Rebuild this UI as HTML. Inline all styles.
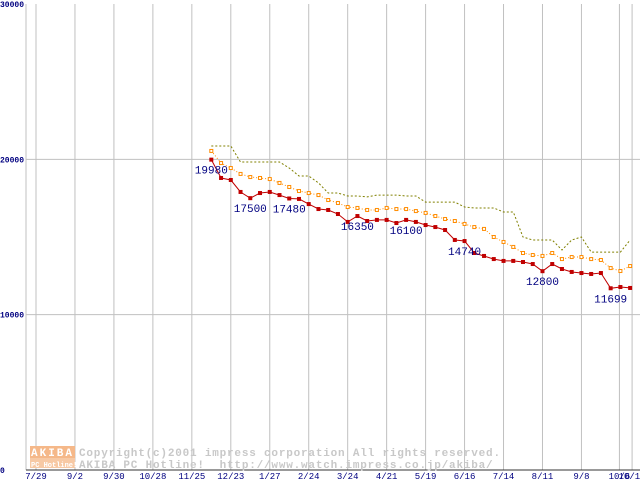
<!DOCTYPE html>
<html><head><meta charset="utf-8"><style>
body{margin:0;background:#fff;width:640px;height:480px;overflow:hidden}
svg{display:block}
text{font-family:"Liberation Mono","DejaVu Sans Mono",monospace}
</style></head><body>
<svg id="chart" width="640" height="480">
<g id="grid"></g>
<g id="wm">
<rect x="30" y="446" width="45" height="12" fill="#f5b889"/>
<rect x="30" y="458" width="45" height="10" fill="#f7c9a4"/>
<text x="31" y="456" font-size="11" fill="#fff" font-weight="bold" letter-spacing="2">AKIBA</text>
<text x="31" y="467" font-size="7" fill="#fff" font-weight="bold">PC Hotline!</text>
<text x="79" y="456" font-size="11" fill="#c8c8c8" font-weight="bold" letter-spacing="0.8">Copyright(c)2001 impress corporation All rights reserved.</text>
<text x="79" y="468" font-size="11" fill="#c8c8c8" font-weight="bold" letter-spacing="0.8" xml:space="preserve">AKIBA PC Hotline!  http://www.watch.impress.co.jp/akiba/</text>
</g>
<g id="series"></g>
</svg>
<script>
const xLabels=["7/29","9/2","9/30","10/28","11/25","12/23","1/27","2/24","3/24","4/21","5/19","6/16","7/14","8/11","9/8","10/6","10/13"];
const xw=[0,4,8,12,16,20,24,28,32,36,40,44,48,52,56,59.9,61.2];
const yTicks=[0,10000,20000,30000];
const startWeek=18;
const minPrice=[19980,18800,18670,17900,17500,17830,17900,17700,17480,17450,17120,16800,16740,16480,15970,16350,16030,16100,16100,15900,16100,15970,15770,15640,15450,14810,14740,13970,13780,13580,13460,13460,13390,13260,12800,13260,12940,12750,12680,12620,12680,11699,11780,11720];
const avgPrice=[20540,19760,19440,19060,18860,18800,18730,18480,18220,17960,17830,17700,17380,17190,16930,16870,16740,16740,16870,16800,16800,16670,16550,16350,16160,16030,15840,15640,15520,15000,14680,14360,13970,13840,13780,13970,13580,13710,13710,13580,13520,13000,12810,13130];
const maxPrice=[20860,20860,20860,19830,19830,19830,19830,19830,19440,18930,18930,18480,17830,17830,17640,17640,17580,17700,17700,17700,17640,17640,17250,17250,17250,17250,16930,16870,16870,16870,16610,16610,15000,14810,14810,14810,14160,14810,15000,14030,14030,14030,14030,14810];
const labelIdx=[0,4,8,15,20,26,34,41];
const NS="http://www.w3.org/2000/svg";
const X=w=>36+w*9.74;
const Y=v=>470-v/30000*466;
function mk(tag,attrs,parent){const e=document.createElementNS(NS,tag);for(const k in attrs)e.setAttribute(k,attrs[k]);parent.appendChild(e);return e;}
const grid=document.getElementById('grid'),ser=document.getElementById('series');
mk('line',{x1:26,y1:4,x2:26,y2:470,stroke:'#c0c0c0'},grid);
xLabels.forEach((l,i)=>{
 const x=X(xw[i]);
 const ln=mk('line',{x1:x,y1:4,x2:x,y2:470,stroke:'#c0c0c0'},grid);
 
 
 const t=mk('text',{x:x,y:479,'font-size':9,fill:'#000080','text-anchor':'middle'},grid);
 t.textContent=l;
 
 
});
yTicks.forEach(v=>{
 const y=Y(v);
 if(v>0&&v<30000){const ln=mk('line',{x1:26,y1:y,x2:640,y2:y,stroke:'#c0c0c0'},grid);
 
 }
 const t=mk('text',{x:0,y:Math.min(Math.max(y+3,7),474),'font-size':8,fill:'#000080','font-weight':'bold'},grid);
 t.textContent=String(v);
 
 
});
mk('line',{x1:26,y1:470,x2:640,y2:470,stroke:'#333'},grid);
function pts(arr){return arr.map((v,i)=>X(startWeek+i).toFixed(1)+','+Y(v).toFixed(1)).join(' ');}
const ol=mk('polyline',{points:pts(maxPrice),fill:'none',stroke:'#808000','stroke-dasharray':'2,2'},ser);


const or=mk('polyline',{points:pts(avgPrice),fill:'none',stroke:'#ff8c00','stroke-dasharray':'1,2'},ser);


avgPrice.forEach((v,i)=>{const r=mk('rect',{x:X(startWeek+i)-1.5,y:Y(v)-1.5,width:3,height:3,fill:'#fff',stroke:'#ff8c00'},ser);
 
 });
const rl=mk('polyline',{points:pts(minPrice),fill:'none',stroke:'#c00000'},ser);


minPrice.forEach((v,i)=>{const r=mk('rect',{x:X(startWeek+i)-2,y:Y(v)-2,width:4,height:4,fill:'#c00000'},ser);
 
 });
labelIdx.forEach(i=>{const t=mk('text',{x:X(startWeek+i),y:Y(minPrice[i])+14,'font-size':11,fill:'#000080','text-anchor':'middle','font-family':'Liberation Sans, sans-serif'},ser);
 t.textContent=String(minPrice[i]);
 
 });
</script>
</body></html>
